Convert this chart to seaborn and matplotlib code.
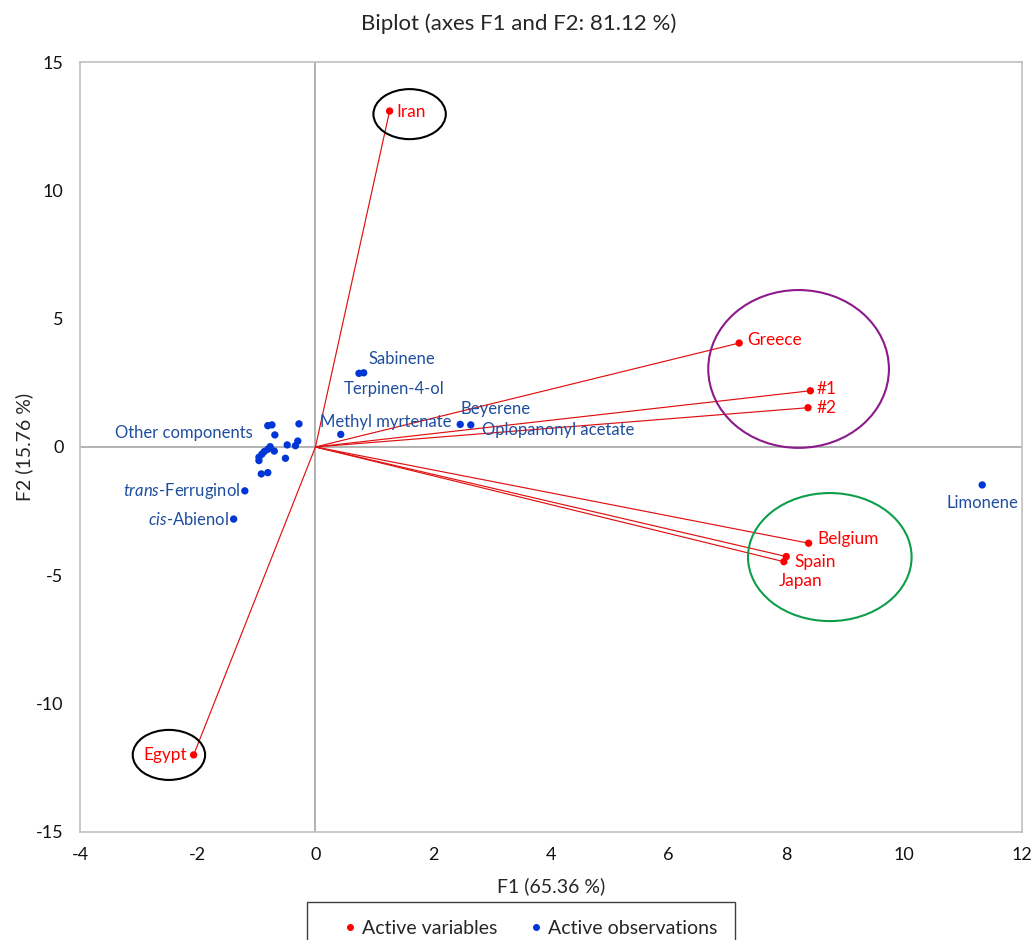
import numpy as np
import matplotlib.pyplot as plt
import seaborn as sns
import pandas as pd
from matplotlib.patches import Ellipse, Rectangle
from matplotlib.lines import Line2D

# active variables (countries / samples)
var_names = ["Iran", "Greece", "#1", "#2", "Belgium", "Spain", "Japan", "Egypt"]
var_f1 = [1.26, 7.20, 8.41, 8.37, 8.38, 8.00, 7.96, -2.07]
var_f2 = [13.09, 4.05, 2.19, 1.53, -3.75, -4.27, -4.47, -12.00]

# active observations (components)
obs_names = ["Sabinene", "Terpinen-4-ol", "Methyl myrtenate", "Beyerene",
             "Oplopanonyl acetate", "Limonene", "trans-Ferruginol", "cis-Abienol",
             "Other components", "", "", "", "", "", "", "", "", "", "", "", "",
             "", "", "", ""]
obs_f1 = [0.74, 0.82, 0.43, 2.46, 2.64, 11.33, -1.20, -1.39,
          -0.81, -0.74, -0.69, -0.28, -0.30, -0.34, -0.48, -0.77, -0.81,
          -0.70, -0.87, -0.91, -0.96, -0.96, -0.51, -0.92, -0.81]
obs_f2 = [2.87, 2.89, 0.49, 0.88, 0.86, -1.48, -1.71, -2.81,
          0.83, 0.86, 0.47, 0.90, 0.23, 0.05, 0.08, 0.01, -0.09,
          -0.16, -0.18, -0.28, -0.40, -0.53, -0.44, -1.05, -1.00]

red = "#FF0000"
blue = "#0036D6"
blue_txt = "#1F4E9E"

sns.set_style("white")
plt.rcParams["font.family"] = ["Lato", "DejaVu Sans"]
plt.rcParams["mathtext.fontset"] = "custom"
plt.rcParams["mathtext.rm"] = "Lato"
plt.rcParams["mathtext.it"] = "Lato:italic"
plt.rcParams["axes.unicode_minus"] = False

var_df = pd.DataFrame({"F1": var_f1, "F2": var_f2, "name": var_names})
obs_df = pd.DataFrame({"F1": obs_f1, "F2": obs_f2, "name": obs_names})

fig = plt.figure(figsize=(10.33, 9.4), dpi=100)
ax = fig.add_axes([0.0775, 0.115, 0.9115, 0.819])

ax.axhline(0, color="#A6A6A6", lw=1.2, zorder=0)
ax.axvline(0, color="#A6A6A6", lw=1.2, zorder=0)

# vectors from the origin
for x, y in zip(var_f1, var_f2):
    ax.plot([0, x], [0, y], color="#E01010", lw=0.85, zorder=1)

sns.scatterplot(data=obs_df, x="F1", y="F2", color=blue, s=28, edgecolor="none",
                ax=ax, zorder=3)
sns.scatterplot(data=var_df, x="F1", y="F2", color=red, s=28, edgecolor="none",
                ax=ax, zorder=3)

# label offsets in points (dx, dy, ha)
var_off = {"Iran": (5, -1, "left"), "Greece": (6, 2, "left"), "#1": (4.5, 1.5, "left"),
           "#2": (6.5, 0, "left"), "Belgium": (6, 3, "left"), "Spain": (6, -4, "left"),
           "Japan": (-4, -14, "left"), "Egypt": (-5, 0, "right")}
for x, y, n in zip(var_f1, var_f2, var_names):
    dx, dy, ha = var_off[n]
    ax.annotate(n, (x, y), xytext=(dx, dy), textcoords="offset points",
                ha=ha, va="center", color=red, fontsize=12.4)

obs_off = {"Sabinene": (7, 10, "left"), "Terpinen-4-ol": (-14.5, -11.5, "left"),
           "Methyl myrtenate": (-15, 9, "left"), "Beyerene": (0, 11, "left"),
           "Oplopanonyl acetate": (8, -3.5, "left"), "Limonene": (0, -13, "center"),
           "trans-Ferruginol": (-3, 0, "right"), "cis-Abienol": (-3, -0.5, "right"),
           "Other components": (-11, -5, "right")}
obs_txt = {"trans-Ferruginol": r"$\it{trans}$-Ferruginol", "cis-Abienol": r"$\it{cis}$-Abienol"}
for x, y, n in zip(obs_f1, obs_f2, obs_names):
    if not n:
        continue
    dx, dy, ha = obs_off[n]
    ax.annotate(obs_txt.get(n, n), (x, y), xytext=(dx, dy), textcoords="offset points",
                ha=ha, va="center", color=blue_txt, fontsize=12)

# highlight ellipses
ax.add_patch(Ellipse((1.60, 12.97), 1.23, 1.95, fill=False, ec="black", lw=1.5, zorder=4))
ax.add_patch(Ellipse((-2.49, -12.0), 1.23, 1.95, fill=False, ec="black", lw=1.5, zorder=4))
ax.add_patch(Ellipse((8.21, 3.04), 3.07, 6.15, fill=False, ec="#8B1A8B", lw=1.5, zorder=4))
ax.add_patch(Ellipse((8.74, -4.29), 2.78, 4.99, fill=False, ec="#0E9E4A", lw=1.5, zorder=4))

ax.set_xlim(-4, 12)
ax.set_ylim(-15, 15)
ax.set_xticks(np.arange(-4, 13, 2))
ax.set_yticks(np.arange(-15, 16, 5))
ax.tick_params(axis="y", length=0, labelsize=13, pad=12, labelcolor="#111111")
ax.tick_params(axis="x", length=0, labelsize=13, pad=11, labelcolor="#111111")
for s in ax.spines.values():
    s.set_color("#BFBFBF")
    s.set_linewidth(1.2)

ax.set_xlabel("F1 (65.36 %)", fontsize=14, labelpad=10)
ax.set_ylabel("F2 (15.76 %)", fontsize=14, labelpad=2)
fig.text(0.5025, 1 - 24 / 940, "Biplot (axes F1 and F2: 81.12 %)", fontsize=16,
         ha="center", va="center")

# legend box (cut by the bottom edge, as in the source)
fig.patches.append(Rectangle((307 / 1033, -0.02), 428 / 1033, 0.02 + (940 - 902) / 940,
                             transform=fig.transFigure, fill=False, ec="#404040", lw=1.0))
handles = [Line2D([], [], marker="o", ls="none", color=red, markersize=4),
           Line2D([], [], marker="o", ls="none", color=blue, markersize=4)]
fig.legend(handles, ["Active variables", "Active observations"], ncol=2,
           loc="center", bbox_to_anchor=(0.514, 1 - 928 / 940), fontsize=14,
           frameon=False, handletextpad=0.3, columnspacing=1.7, handlelength=0.6,
           borderpad=0.0)

fig.savefig("out.png", dpi=100)
